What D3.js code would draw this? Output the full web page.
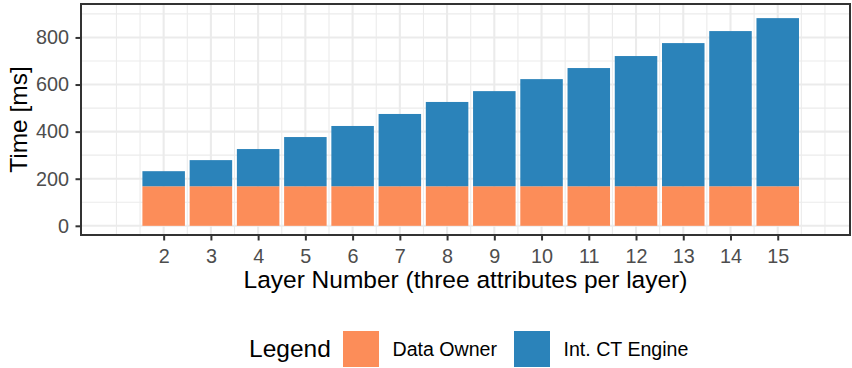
<!DOCTYPE html>
<html>
<head>
<meta charset="utf-8">
<script src="https://cdn.jsdelivr.net/npm/d3@7"></script>
<style>
  html, body { margin: 0; padding: 0; background: #fff; }
  svg { display: block; font-family: "Liberation Sans", Arial, Helvetica, sans-serif; }
</style>
</head>
<body>
<svg id="chart" width="852" height="368"></svg>
<script>
// Layers and the time each party spends per layer (ms)
const layers = [2, 3, 4, 5, 6, 7, 8, 9, 10, 11, 12, 13, 14, 15];
const dataOwner = [168, 168, 168, 168, 168, 168, 168, 168, 168, 168, 168, 168, 168, 168];
const ctEngine = [64, 111, 158, 209, 256, 307, 358, 404, 455, 502, 553, 608, 659, 714];
const seriesNames = ["Data Owner", "Int. CT Engine"];
const seriesColors = ["#FC8D59", "#2B83BA"];
const yTicks = [0, 200, 400, 600, 800];

const svg = d3.select("#chart");
const panel = { left: 81, right: 850, top: 4, bottom: 235 };

const x = d3.scaleLinear().domain([0.25, 16.53]).range([panel.left, panel.right]);
const y = d3.scaleLinear().domain([-39, 942]).range([panel.bottom, panel.top]);

const rows = layers.map((l, i) => ({ layer: l, "Data Owner": dataOwner[i], "Int. CT Engine": ctEngine[i] }));
const stacked = d3.stack().keys(seriesNames)(rows);

// grid
const grid = svg.append("g");
const xMinor = d3.range(1, 16.01, 0.5).filter(v => !layers.includes(v));
const yMinor = [100, 300, 500, 700, 900];
grid.selectAll(".xminor").data(xMinor).join("line")
  .attr("x1", d => x(d)).attr("x2", d => x(d))
  .attr("y1", panel.top).attr("y2", panel.bottom)
  .attr("stroke", "#EBEBEB").attr("stroke-width", 1.1);
grid.selectAll(".yminor").data(yMinor).join("line")
  .attr("x1", panel.left).attr("x2", panel.right)
  .attr("y1", d => y(d)).attr("y2", d => y(d))
  .attr("stroke", "#EBEBEB").attr("stroke-width", 1.1);
grid.selectAll(".xmajor").data(layers).join("line")
  .attr("x1", d => x(d)).attr("x2", d => x(d))
  .attr("y1", panel.top).attr("y2", panel.bottom)
  .attr("stroke", "#EBEBEB").attr("stroke-width", 2.1);
grid.selectAll(".ymajor").data(yTicks).join("line")
  .attr("x1", panel.left).attr("x2", panel.right)
  .attr("y1", d => y(d)).attr("y2", d => y(d))
  .attr("stroke", "#EBEBEB").attr("stroke-width", 2.1);

// stacked bars
const barW = 0.9;
svg.append("g").selectAll("g").data(stacked).join("g")
  .attr("fill", (d, i) => seriesColors[i])
  .selectAll("rect").data(d => d).join("rect")
  .attr("x", d => x(d.data.layer - barW / 2))
  .attr("width", d => x(d.data.layer + barW / 2) - x(d.data.layer - barW / 2))
  .attr("y", d => y(d[1]))
  .attr("height", d => y(d[0]) - y(d[1]));

// axes
const xAxis = svg.append("g").attr("transform", `translate(0,${panel.bottom})`)
  .call(d3.axisBottom(x).tickValues(layers).tickFormat(d3.format("d")).tickSize(5.5).tickPadding(8.5));
const yAxis = svg.append("g").attr("transform", `translate(${panel.left},0)`)
  .call(d3.axisLeft(y).tickValues(yTicks).tickSize(5.5).tickPadding(6.5));
[xAxis, yAxis].forEach(a => {
  a.select(".domain").remove();
  a.selectAll(".tick line").attr("stroke", "#333333").attr("stroke-width", 2);
  a.selectAll(".tick text").attr("fill", "#4D4D4D").attr("font-size", "19.8px");
});
xAxis.selectAll(".tick text").attr("dy", "0.71em");

// panel border
svg.append("rect")
  .attr("x", panel.left).attr("y", panel.top)
  .attr("width", panel.right - panel.left).attr("height", panel.bottom - panel.top)
  .attr("fill", "none").attr("stroke", "#333333").attr("stroke-width", 2);

// axis titles
svg.append("text")
  .attr("x", (panel.left + panel.right) / 2).attr("y", 288)
  .attr("text-anchor", "middle").attr("font-size", "24.5px").attr("fill", "#000")
  .text("Layer Number (three attributes per layer)");
svg.append("text")
  .attr("transform", `translate(27,${(panel.top + panel.bottom) / 2}) rotate(-90)`)
  .attr("text-anchor", "middle").attr("font-size", "24.5px").attr("fill", "#000")
  .text("Time [ms]");

// legend
const legend = svg.append("g");
legend.append("text").attr("x", 249).attr("y", 357).attr("font-size", "24.5px").attr("fill", "#000").text("Legend");
const keyX = [343, 514];
seriesNames.forEach((name, i) => {
  legend.append("rect").attr("x", keyX[i]).attr("y", 331).attr("width", 36).attr("height", 36)
    .attr("fill", seriesColors[i]);
  legend.append("text").attr("x", keyX[i] + 49.5).attr("y", 356)
    .attr("font-size", "19.6px").attr("fill", "#000").text(name);
});
</script>
</body>
</html>
